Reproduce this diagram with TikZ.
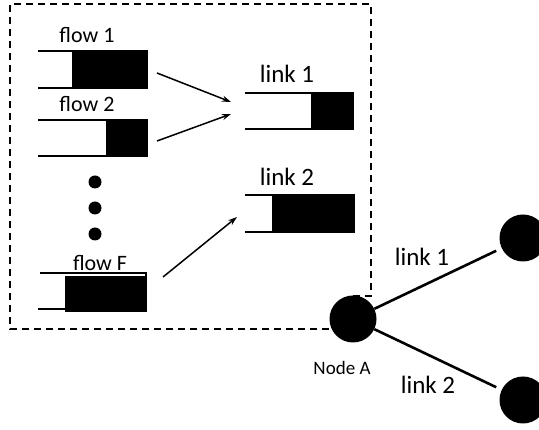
\documentclass[tikz,border=0pt]{standalone}
\usepackage{fontspec}
\setmainfont{Carlito}
\usetikzlibrary{arrows.meta}

% Queue: open on the left, filled part at the right end
\newcommand\drawqueue[6]{% name, left, top, right, bottom, fill start
  \fill[rounded corners=0.8pt] (#6,#3) rectangle (#4,#5);
  \draw[qline] (#2,#3) -- (#4,#3) -- (#4,#5) -- (#2,#5);
  \path (#2,#3) -- (#4,#5) node[midway, inner sep=0pt] (#1) {};
}

\begin{document}
\begin{tikzpicture}[x=1pt, y=-1pt,
  qline/.style={line width=2pt},
  feed/.style={line width=1.5pt, -{Stealth[length=9pt,width=6pt]}},
  wire/.style={line width=2.6pt},
  border/.style={line width=1.5pt, dash pattern=on 7pt off 5pt},
  lbl/.style={font=\fontsize{25}{30}\selectfont, inner sep=0pt},
  flbl/.style={font=\fontsize{22}{26}\selectfont, inner sep=0pt},
  nlbl/.style={font=\fontsize{19}{23}\selectfont, inner sep=0pt},
  bigdot/.style={circle, fill=black, inner sep=0pt, minimum size=13pt},
  router/.style={circle, fill=black, inner sep=0pt, minimum size=47pt},
]
\useasboundingbox (0,0) rectangle (539,430);
\clip (0,0) rectangle (539,430);

% router boundary
\draw[border] (353,296) -- (371,296) -- (371,4) -- (10,4) -- (10,329) -- (330,329);

% per-flow queues
\node[flbl] (t1) at (87,35) {flow 1};
\drawqueue{q1}{38}{51}{147}{88}{72}
\node[flbl] (t2) at (87,104) {flow 2};
\drawqueue{q2}{38}{120}{147}{156}{106}

\node[bigdot] (d1) at (95,182) {};
\node[bigdot] (d2) at (95,208) {};
\node[bigdot] (d3) at (95,234) {};

\node[flbl] (tF) at (100,263) {flow F};
\fill (65,276) rectangle (147,312);
\draw[qline] (40,273) -- (146,273) -- (146,278);
\draw[qline] (38,309) -- (65,309);
\path (40,273) -- (147,312) node[midway, inner sep=0pt] (qF) {};

% per-link queues
\node[lbl] (l1) at (287,74) {link 1};
\drawqueue{k1}{245}{93}{353}{129}{311}
\node[lbl] (l2) at (287,177) {link 2};
\drawqueue{k2}{245}{195}{354}{232}{272}

% scheduling arrows
\coordinate (q1o) at (157,73);
\coordinate (q2o) at (157,141);
\coordinate (qFo) at (163,277);
\coordinate (k1a) at (231,102);
\coordinate (k1b) at (231,114);
\coordinate (k2a) at (237,217);
\draw[feed] (q1o) -- (k1a);
\draw[feed] (q2o) -- (k1b);
\draw[feed] (qFo) -- (k2a);

% topology
\node[router] (A) at (353,319) {};
\node[router] (B) at (523,238) {};
\node[router] (C) at (523,400) {};
\draw[wire, shorten >=6pt] (A) -- (B);
\draw[wire, shorten >=6pt] (A) -- (C);
\node[lbl] (w1) at (422,257) {link 1};
\node[lbl] (w2) at (428,385) {link 2};
\node[nlbl] (na) at (342,368) {Node A};
\end{tikzpicture}
\end{document}
